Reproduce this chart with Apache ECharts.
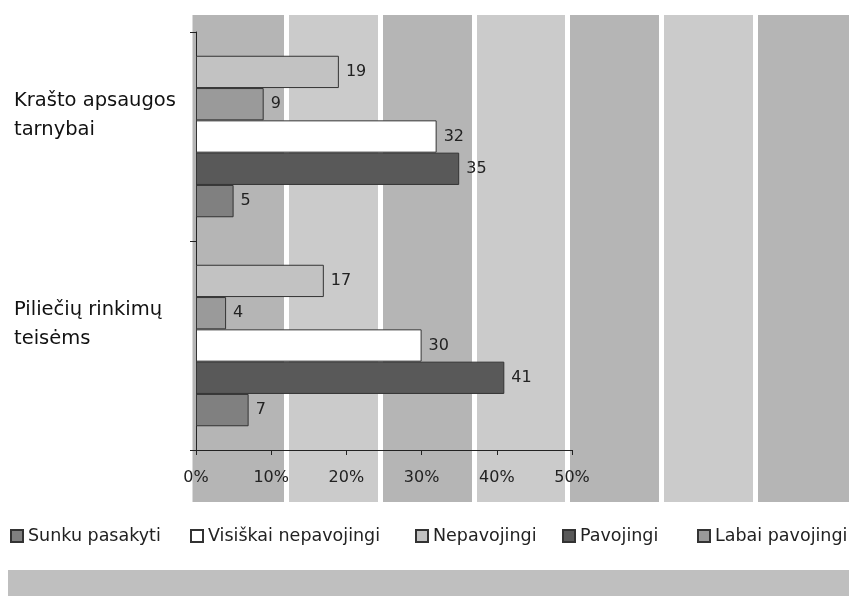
<!DOCTYPE html>
<html><head><meta charset="utf-8">
<script src="https://cdn.jsdelivr.net/npm/echarts@6/dist/echarts.min.js"></script>
<style>html,body{margin:0;padding:0;background:#fff}#c{width:849px;height:596px}</style>
</head><body><div id="c"></div>
<script>
// categories listed bottom -> top (category axis grows upward)
const categories = ['Piliečių rinkimų\nteisėms', 'Krašto apsaugos\ntarnybai'];
const legendOrder = ['Sunku pasakyti', 'Visiškai nepavojingi', 'Nepavojingi', 'Pavojingi', 'Labai pavojingi'];
// values per series, same order as categories
const sunkuPasakyti = [7, 5];
const visiskaiNepavojingi = [30, 32];
const nepavojingi = [17, 19];
const pavojingi = [41, 35];
const labaiPavojingi = [4, 9];
const xTicks = [0, 10, 20, 30, 40, 50];

const colors = {
  'Sunku pasakyti': '#808080',
  'Visiškai nepavojingi': '#ffffff',
  'Nepavojingi': '#c2c2c2',
  'Pavojingi': '#595959',
  'Labai pavojingi': '#9a9a9a'
};
// series from top bar to bottom bar within each category
const seriesDefs = [
  ['Nepavojingi', nepavojingi],
  ['Labai pavojingi', labaiPavojingi],
  ['Visiškai nepavojingi', visiskaiNepavojingi],
  ['Pavojingi', pavojingi],
  ['Sunku pasakyti', sunkuPasakyti]
];
const FONT = 'DejaVu Sans';
const chart = echarts.init(document.getElementById('c'));
const legendLefts = [10, 190, 415, 562, 697];
chart.setOption({
  animation: false,
  textStyle: { fontFamily: FONT },
  grid: [
    { left: 196, right: 277, top: 32, bottom: 146 },
    { left: 192.5, right: -1.5, top: 15, bottom: 94, z: 0 }
  ],
  graphic: [{ type: 'rect', left: 8, top: 570, shape: { width: 841, height: 26 }, style: { fill: '#bfbfbf' }, z: -1 }],
  legend: legendOrder.map((n, i) => ({
    data: [n], left: legendLefts[i], top: 527, padding: 0,
    icon: 'rect', itemWidth: 12, itemHeight: 12,
    textStyle: { fontSize: 17.5, color: '#222', fontFamily: FONT }
  })),
  xAxis: [
    {
      gridIndex: 0, type: 'value', min: xTicks[0], max: xTicks[xTicks.length - 1], interval: 10,
      axisLine: { show: true, lineStyle: { color: '#222', width: 1 } },
      axisTick: { show: true, length: 5, lineStyle: { color: '#222' } },
      axisLabel: { formatter: '{value}%', fontSize: 16, color: '#222', margin: 20 },
      splitLine: { show: false }
    },
    {
      gridIndex: 1, type: 'value', min: 0, max: 7, interval: 1,
      axisLine: { show: false }, axisTick: { show: false }, axisLabel: { show: false },
      splitArea: { show: true, areaStyle: { color: ['#b5b5b5', '#cbcbcb'] } },
      splitLine: { show: true, showMinLine: false, showMaxLine: false, lineStyle: { color: '#ffffff', width: 5 } }
    }
  ],
  yAxis: [
    {
      gridIndex: 0, type: 'category', data: categories,
      axisLine: { show: true, lineStyle: { color: '#222', width: 1 } },
      axisTick: { show: true, length: 6, lineStyle: { color: '#222' } },
      axisLabel: {
        align: 'left', margin: 182, color: '#111',
        formatter: v => v.split('\n').map(s => '{a|' + s + '}').join('\n') + '\n{b| }',
        rich: {
          a: { fontSize: 19.5, lineHeight: 29, color: '#111', fontFamily: FONT, align: 'left' },
          b: { fontSize: 10, lineHeight: 42 }
        }
      }
    },
    { gridIndex: 1, type: 'value', show: false, min: 0, max: 1, splitLine: { show: false } }
  ],
  series: seriesDefs.map(([name, vals]) => ({
    name, type: 'bar', xAxisIndex: 0, yAxisIndex: 0, data: vals,
    barWidth: 32.3, barGap: '0%',
    itemStyle: { color: colors[name], borderColor: '#333', borderWidth: 1 },
    label: { show: true, position: 'right', distance: 7, fontSize: 16, color: '#222', fontFamily: FONT }
  }))
});
</script></body></html>
